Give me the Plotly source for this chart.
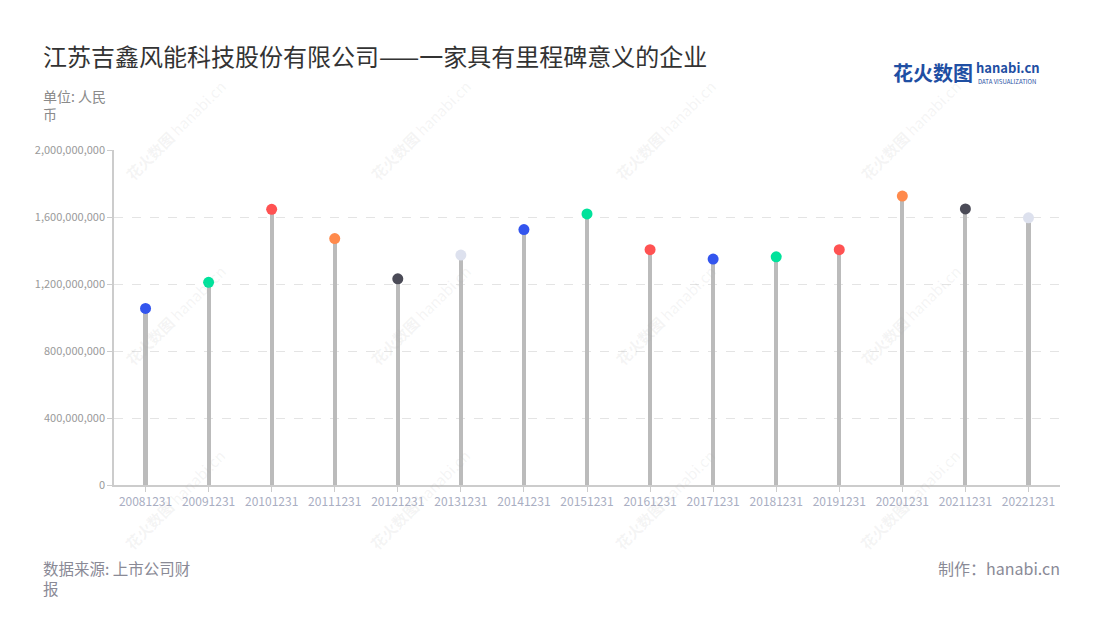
import plotly.graph_objects as go

categories = ["20081231", "20091231", "20101231", "20111231", "20121231",
              "20131231", "20141231", "20151231", "20161231", "20171231",
              "20181231", "20191231", "20201231", "20211231", "20221231"]
values = [1054e6, 1210e6, 1646e6, 1471e6, 1231e6,
          1373e6, 1525e6, 1618e6, 1405e6, 1349e6,
          1362e6, 1405e6, 1725e6, 1648e6, 1595e6]
dot_colors = ["#3355ee", "#00e29b", "#ff5252", "#ff8a4c", "#4b4b57",
              "#dde1ee", "#3355ee", "#00e29b", "#ff5252", "#3355ee",
              "#00e29b", "#ff5252", "#ff8a4c", "#4b4b57", "#dde1ee"]
y_ticks = [0, 400e6, 800e6, 1200e6, 1600e6, 2000e6]

FONT = "Noto Sans CJK SC, Noto Sans, sans-serif"

# page offset (browser body margin) compensation
OFF = 8
W, H = 1100, 620
ML, MR, MT, MB = 114 - OFF, W - 1060 + OFF, 150 - OFF, H - 485 + OFF

fig = go.Figure()
fig.add_trace(go.Bar(x=categories, y=values, width=0.065,
                     marker=dict(color="#bbbbbb", line=dict(width=0)),
                     hoverinfo="skip", showlegend=False))
fig.add_trace(go.Scatter(x=categories, y=values, mode="markers",
                         marker=dict(size=11, color=dot_colors, line=dict(width=0)),
                         showlegend=False))

fig.update_layout(
    width=W, height=H,
    margin=dict(l=ML, r=MR, t=MT, b=MB),
    paper_bgcolor="white", plot_bgcolor="white",
    font=dict(family=FONT, color="#999999"),
    bargap=0,
    xaxis=dict(type="category", showline=True, linecolor="#cccccc", linewidth=1.5,
               ticks="outside", ticklen=5, tickcolor="#cccccc", showgrid=False,
               tickfont=dict(size=12, color="#a9aec2"), range=[-0.5, 14.5]),
    yaxis=dict(range=[0, 2000e6], tickvals=y_ticks, tickformat=",",
               showline=True, linecolor="#cccccc", linewidth=1.5,
               ticks="outside", ticklen=5, tickcolor="#cccccc",
               showgrid=True, gridcolor="#e4e4e4", griddash="dash", gridwidth=1,
               zeroline=False, tickfont=dict(size=11, color="#9a9a9a")),
)


def px_ann(text, x, y, size, color, xanchor="left", yanchor="middle", **kw):
    # x, y are page pixel coords; convert to paper coords
    pw = W - ML - MR
    ph = H - MT - MB
    fx = x - OFF
    fy = y - OFF
    return dict(text=text, x=(fx - ML) / pw, y=(H - MB - fy) / ph,
                xref="paper", yref="paper", showarrow=False,
                xanchor=xanchor, yanchor=yanchor,
                font=dict(size=size, color=color, family=FONT), **kw)


# watermarks
wm_cols = [175, 420, 665, 910]
wm_rows = [130, 315, 500]
for cx in wm_cols:
    for cy in wm_rows:
        fig.add_annotation(**px_ann("<b>花火数图</b> hanabi.cn", cx, cy, 15,
                                    "rgba(170,170,170,0.13)", xanchor="center",
                                    textangle=-45))

fig.add_annotation(**px_ann("江苏吉鑫风能科技股份有限公司——一家具有里程碑意义的企业",
                            41, 55, 24, "#333333"))
fig.add_annotation(**px_ann("单位: 人民<br>币", 41, 105, 14, "#8a8a8a", align="left"))
fig.add_annotation(**px_ann("数据来源: 上市公司财<br>报", 41, 578, 15.5, "#8a8a96", align="left"))
fig.add_annotation(**px_ann("制作：hanabi.cn", 1062, 568, 16, "#8a8a96", xanchor="right"))
# logo
fig.add_annotation(**px_ann("<b>花火数图</b>", 891, 73, 20, "#1f4fa3"))
fig.add_annotation(**px_ann("<b>hanabi.cn</b>", 974, 68, 13, "#1f4fa3"))
fig.add_annotation(**px_ann("DATA VISUALIZATION", 976, 81, 6, "#1f4fa3"))

fig.write_html("out.html")
